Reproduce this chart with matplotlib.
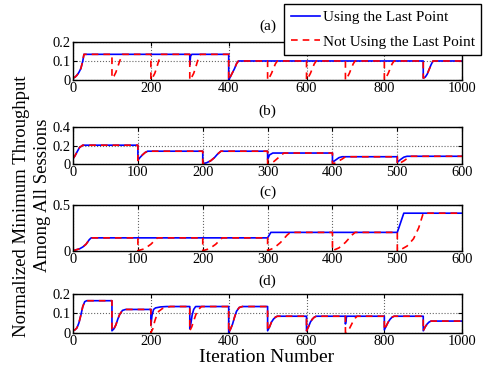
import matplotlib
matplotlib.use("Agg")
import matplotlib.pyplot as plt

plt.rcParams['font.family'] = ['Liberation Serif', 'DejaVu Serif']

# (x, y) points
a_blue = [(0, 0.01), (5, 0.015), (10, 0.025), (15, 0.04), (20, 0.06), (25, 0.1), (28, 0.135),
          (300, 0.135), (300, 0.08), (302, 0.125), (305, 0.135),
          (400, 0.135), (400, 0.0), (405, 0.02), (410, 0.04), (415, 0.06), (420, 0.085), (425, 0.1),
          (900, 0.1), (900, 0.01), (905, 0.015), (910, 0.03), (915, 0.055), (920, 0.08), (925, 0.1),
          (1000, 0.1)]
a_red = [(0, 0.01), (5, 0.015), (10, 0.025), (15, 0.04), (20, 0.06), (25, 0.1), (28, 0.135),
         (100, 0.135), (100, 0.01), (105, 0.02), (110, 0.04), (115, 0.07), (120, 0.1), (127, 0.135),
         (200, 0.135), (200, 0.0), (205, 0.015), (210, 0.035), (215, 0.065), (220, 0.1), (227, 0.135),
         (300, 0.135), (300, 0.0), (305, 0.015), (310, 0.035), (315, 0.065), (320, 0.1), (327, 0.135),
         (400, 0.135), (400, 0.0), (405, 0.02), (410, 0.04), (415, 0.06), (420, 0.085), (425, 0.1),
         (500, 0.1), (500, 0.0), (505, 0.015), (510, 0.035), (515, 0.06), (520, 0.085), (525, 0.1),
         (600, 0.1), (600, 0.0), (605, 0.015), (610, 0.035), (615, 0.06), (620, 0.085), (625, 0.1),
         (700, 0.1), (700, 0.0), (705, 0.015), (710, 0.035), (715, 0.06), (720, 0.085), (725, 0.1),
         (800, 0.1), (800, 0.0), (805, 0.015), (810, 0.035), (815, 0.06), (820, 0.085), (825, 0.1),
         (900, 0.1), (900, 0.01), (905, 0.015), (910, 0.03), (915, 0.055), (920, 0.08), (925, 0.1),
         (1000, 0.1)]

b_blue = [(0, 0.06), (3, 0.09), (6, 0.13), (10, 0.18), (15, 0.205),
          (100, 0.205), (100, 0.04), (103, 0.07), (107, 0.1), (111, 0.125), (115, 0.14),
          (200, 0.14), (200, 0.005), (206, 0.015), (212, 0.035), (218, 0.07), (223, 0.11), (228, 0.14),
          (300, 0.14), (300, 0.05), (303, 0.1), (308, 0.12),
          (400, 0.12), (400, 0.02), (405, 0.045), (410, 0.07), (415, 0.08),
          (500, 0.08), (500, 0.02), (505, 0.05), (510, 0.075), (515, 0.085),
          (600, 0.085)]
b_red = [(0, 0.06), (3, 0.09), (6, 0.13), (10, 0.18), (15, 0.205),
         (100, 0.205), (100, 0.04), (103, 0.07), (107, 0.1), (111, 0.125), (115, 0.14),
         (200, 0.14), (200, 0.005), (206, 0.015), (212, 0.035), (218, 0.07), (223, 0.11), (228, 0.14),
         (300, 0.14), (300, 0.0), (305, 0.01), (310, 0.03), (315, 0.06), (320, 0.09), (325, 0.12),
         (400, 0.12), (400, 0.0), (405, 0.015), (410, 0.035), (415, 0.055), (420, 0.08),
         (500, 0.08), (500, 0.0), (505, 0.015), (510, 0.035), (515, 0.06), (520, 0.085),
         (600, 0.085)]

c_blue = [(0, 0.0), (5, 0.01), (10, 0.02), (15, 0.04), (20, 0.07), (25, 0.12), (28, 0.14),
          (300, 0.14), (305, 0.2), (500, 0.2), (510, 0.41), (600, 0.41)]
c_red = [(0, 0.0), (5, 0.01), (10, 0.02), (15, 0.04), (20, 0.07), (25, 0.12), (28, 0.14),
         (100, 0.14), (100, 0.0), (110, 0.02), (120, 0.07), (130, 0.14),
         (200, 0.14), (200, 0.0), (210, 0.02), (220, 0.07), (230, 0.14),
         (300, 0.14), (300, 0.0), (310, 0.03), (320, 0.09), (330, 0.17), (335, 0.2),
         (400, 0.2), (400, 0.0), (410, 0.03), (420, 0.09), (430, 0.17), (435, 0.2),
         (500, 0.2), (500, 0.0), (505, 0.01), (515, 0.05), (525, 0.13), (533, 0.25), (540, 0.41),
         (600, 0.41)]

d_blue = [(0, 0.01), (5, 0.015), (10, 0.025), (15, 0.05), (20, 0.09), (25, 0.135), (30, 0.16), (35, 0.165),
          (100, 0.165), (100, 0.01), (105, 0.02), (110, 0.04), (115, 0.07), (120, 0.095), (127, 0.115), (135, 0.12),
          (200, 0.12), (200, 0.04), (203, 0.09), (207, 0.12), (212, 0.128), (225, 0.133), (240, 0.135),
          (300, 0.135), (300, 0.02), (303, 0.05), (306, 0.09), (310, 0.12), (315, 0.135),
          (400, 0.135), (400, 0.0), (405, 0.02), (410, 0.045), (415, 0.08), (420, 0.11), (427, 0.13), (435, 0.135),
          (500, 0.135), (500, 0.01), (505, 0.03), (510, 0.055), (515, 0.07), (520, 0.08), (525, 0.085),
          (600, 0.085), (600, 0.01), (605, 0.03), (610, 0.055), (615, 0.07), (620, 0.08), (625, 0.085),
          (700, 0.085), (700, 0.045), (703, 0.085),
          (800, 0.085), (800, 0.015), (805, 0.035), (810, 0.055), (815, 0.07), (820, 0.08), (825, 0.085),
          (900, 0.085), (900, 0.01), (905, 0.03), (910, 0.045), (915, 0.055), (920, 0.06),
          (1000, 0.06)]
d_red = [(0, 0.01), (5, 0.015), (10, 0.025), (15, 0.05), (20, 0.09), (25, 0.135), (30, 0.16), (35, 0.165),
         (100, 0.165), (100, 0.01), (105, 0.02), (110, 0.04), (115, 0.07), (120, 0.095), (127, 0.115), (135, 0.12),
         (200, 0.12), (200, 0.0), (205, 0.02), (210, 0.06), (215, 0.09), (220, 0.11), (230, 0.125), (250, 0.135),
         (300, 0.135), (300, 0.01), (305, 0.03), (310, 0.06), (315, 0.09), (320, 0.115), (330, 0.135),
         (400, 0.135), (400, 0.0), (405, 0.02), (410, 0.045), (415, 0.08), (420, 0.11), (427, 0.13), (435, 0.135),
         (500, 0.135), (500, 0.01), (505, 0.03), (510, 0.055), (515, 0.07), (520, 0.08), (525, 0.085),
         (600, 0.085), (600, 0.01), (605, 0.03), (610, 0.055), (615, 0.07), (620, 0.08), (625, 0.085),
         (700, 0.085), (700, 0.0), (705, 0.005), (710, 0.02), (715, 0.04), (720, 0.06), (725, 0.075), (730, 0.085),
         (800, 0.085), (800, 0.015), (805, 0.035), (810, 0.055), (815, 0.07), (820, 0.08), (825, 0.085),
         (900, 0.085), (900, 0.01), (905, 0.03), (910, 0.045), (915, 0.055), (920, 0.06),
         (1000, 0.06)]

panel_titles = ['(a)', '(b)', '(c)', '(d)']
panel_xmax = [1000, 600, 600, 1000]
panel_xstep = [200, 100, 100, 200]
panel_yticks = [[0, 0.1, 0.2], [0, 0.2, 0.4], [0, 0.5], [0, 0.1, 0.2]]
panel_ytick_labels = [['0', '0.1', '0.2'], ['0', '0.2', '0.4'], ['0', '0.5'], ['0', '0.1', '0.2']]
series_labels = ['Using the Last Point', 'Not Using the Last Point']

fig = plt.figure(figsize=(4.87, 3.73), dpi=100)

# axes rectangles in figure fraction: left, bottom, width, height
rects = [(0.150, 0.7855, 0.799, 0.102),
         (0.150, 0.560, 0.799, 0.099),
         (0.150, 0.328, 0.799, 0.1225),
         (0.150, 0.108, 0.799, 0.104)]
title_offsets = [11.5, 11.5, 9.2, 9.4]  # points above the axes top, to title centre

blues = [a_blue, b_blue, c_blue, d_blue]
reds = [a_red, b_red, c_red, d_red]

handles = None
for i in range(4):
    ax = fig.add_axes(rects[i])
    bx, by = zip(*blues[i])
    rx, ry = zip(*reds[i])
    h1, = ax.plot(bx, by, color='blue', lw=1.2, label=series_labels[0])
    h2, = ax.plot(rx, ry, color='red', lw=1.2, ls='--', dashes=(4, 3), label=series_labels[1])
    if handles is None:
        handles = [h1, h2]
    ax.set_xlim(0, panel_xmax[i])
    ax.set_ylim(panel_yticks[i][0], panel_yticks[i][-1])
    ax.set_xticks(range(0, panel_xmax[i] + 1, panel_xstep[i]))
    ax.set_yticks(panel_yticks[i])
    ax.set_yticklabels(panel_ytick_labels[i])
    ax.grid(True, ls=':', color='#666666', lw=0.8)
    ax.tick_params(direction='in', top=True, right=True, labelsize=10.4, length=3, pad=1.5)
    for s in ax.spines.values():
        s.set_linewidth(1.0)
    ax.annotate(panel_titles[i], xy=(0.5, 1.0), xycoords='axes fraction',
                xytext=(0, title_offsets[i]), textcoords='offset points',
                ha='center', va='center', fontsize=11)

leg = fig.legend(handles, series_labels, loc='upper right', bbox_to_anchor=(0.9877, 0.989),
                 fontsize=11, frameon=True, fancybox=False, edgecolor='black',
                 framealpha=1, handlelength=1.9, handletextpad=0.2, labelspacing=0.7,
                 borderpad=0.42, borderaxespad=0)
leg.get_frame().set_linewidth(1.0)

fig.text(22 / 487, 1 - 206 / 373, 'Normalized Minimum Throughput',
         rotation=90, ha='center', va='center', fontsize=13.5)
fig.text(43 / 487, 1 - 195 / 373, 'Among All Sessions',
         rotation=90, ha='center', va='center', fontsize=13.5)
fig.text(267 / 487, 1 - 362 / 373, 'Iteration Number', ha='center', va='baseline', fontsize=14)

fig.savefig('out.png', dpi=100)
